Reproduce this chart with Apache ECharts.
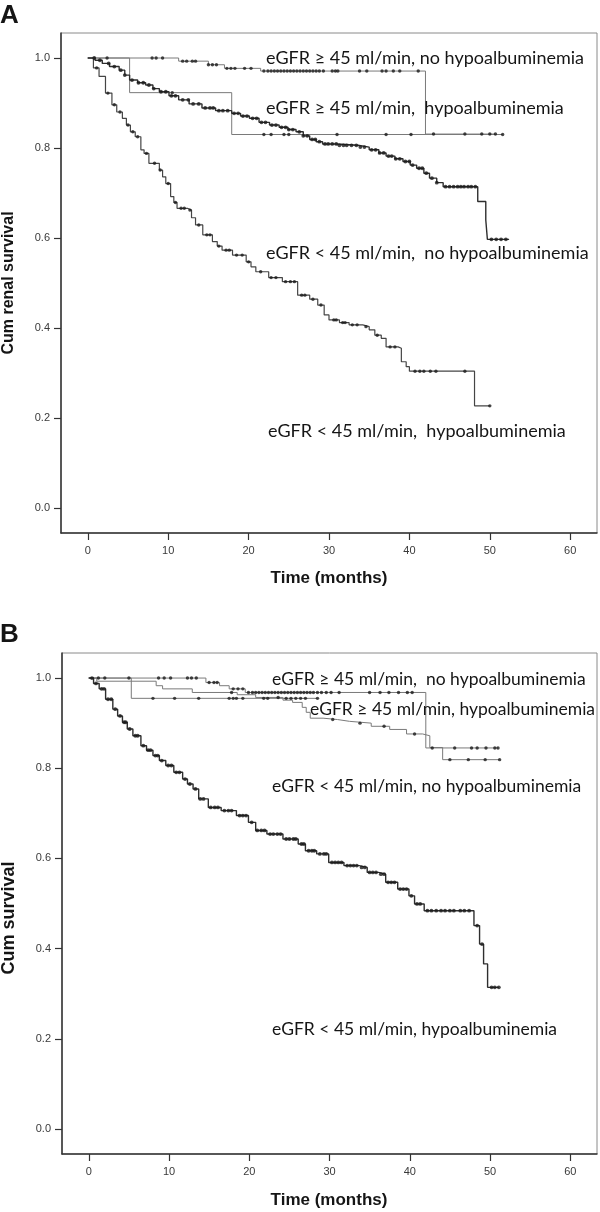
<!DOCTYPE html>
<html><head><meta charset="utf-8">
<script src="https://cdn.jsdelivr.net/npm/echarts@6/dist/echarts.min.js"></script>
<style>html,body{margin:0;padding:0;background:#fff}#c{width:600px;height:1212px}</style>
</head><body><div id="c"></div>
<script>
// ---------- tick labels ----------
const xTicks = [0, 10, 20, 30, 40, 50, 60];
const yTicks = [0, 0.2, 0.4, 0.6, 0.8, 1.0];

// ---------- Panel A: Kaplan–Meier steps [time, cum renal survival] ----------
const a1Steps = [[0,1.0],[11.3,0.993],[15,0.985],[17,0.977],[21.5,0.971],[42,0.831],[50.7,0.831]];
const a1Censor = [2.4,8.0,8.5,9.3,11.8,12.3,13.0,13.4,15.0,15.5,16.0,17.3,17.8,18.3,19.5,20.3,21.9,22.4,22.8,23.2,23.6,24.0,24.4,24.8,25.2,25.6,26.0,26.4,26.8,27.2,27.6,28.0,28.4,28.8,29.3,30.4,30.8,31.1,33.8,34.7,36.6,37.1,38.0,38.8,41.1,43.0,46.9,49.0,50.0,50.7];
const a2Steps = [[0,1.0],[5.2,0.923],[17.9,0.83],[51.6,0.83]];
const a2Censor = [10.5,21.9,22.8,24.4,25.0,31.0,37.1,40.2,51.6];
const a3Steps = [[0,1.0],[0.9,0.995],[1.8,0.988],[2.7,0.981],[3.9,0.973],[4.6,0.962],[5.2,0.951],[6.2,0.945],[7.2,0.940],[8.1,0.932],[8.9,0.925],[10.1,0.916],[11.3,0.907],[12.6,0.898],[14.2,0.889],[15.9,0.883],[17.9,0.877],[19.0,0.871],[20.1,0.866],[21.3,0.857],[22.6,0.851],[23.8,0.846],[24.9,0.841],[25.9,0.836],[26.8,0.827],[27.6,0.819],[28.4,0.814],[29.2,0.809],[31.0,0.806],[33.6,0.802],[35.0,0.796],[36.2,0.789],[37.1,0.782],[38.2,0.776],[39.2,0.770],[40.1,0.762],[40.9,0.755],[41.8,0.744],[42.5,0.733],[43.4,0.723],[44.2,0.714],[48.5,0.681],[49.5,0.640],[49.7,0.597],[52.4,0.597]];
const a3Censor = [0.8,1.5,2.6,3.3,4.1,4.6,5.5,6.3,6.9,7.6,8.2,9.1,9.7,10.4,10.9,11.8,12.5,13.1,13.8,14.6,15.2,15.6,16.3,16.8,17.4,18.2,18.7,19.3,19.8,20.5,21.0,21.6,22.1,22.9,23.4,24.1,24.6,25.0,25.5,26.3,26.8,27.3,27.9,28.3,28.8,29.5,29.9,30.4,30.9,31.3,31.8,32.2,32.8,33.4,33.9,34.4,35.3,35.8,36.3,36.8,37.4,37.8,38.3,38.8,39.5,40.0,40.4,41.2,41.6,42.1,42.8,43.4,44.5,45.0,45.5,46.0,46.4,46.8,47.3,47.7,48.2,50.2,50.8,51.4,52.0];
const a4Steps = [[0,1.0],[0.7,0.978],[1.4,0.959],[2.2,0.922],[3.0,0.896],[3.6,0.880],[4.3,0.866],[4.8,0.851],[5.3,0.836],[5.9,0.825],[6.6,0.796],[7.0,0.788],[7.6,0.766],[8.9,0.751],[9.3,0.736],[9.7,0.721],[10.3,0.692],[10.7,0.679],[11.1,0.666],[12.4,0.662],[12.9,0.645],[13.4,0.629],[14.3,0.607],[15.5,0.592],[16.1,0.582],[16.7,0.573],[18.0,0.562],[19.7,0.547],[20.3,0.536],[20.9,0.525],[22.5,0.512],[24.2,0.503],[26.1,0.473],[27.6,0.464],[28.6,0.451],[29.4,0.429],[30.0,0.418],[31.3,0.412],[32.5,0.407],[34.2,0.403],[35.0,0.396],[35.7,0.384],[36.5,0.377],[37.1,0.358],[38.6,0.355],[39.0,0.325],[39.6,0.314],[40.0,0.304],[48.1,0.227],[50.0,0.227]];
const a4Censor = [1.1,2.5,3.3,4.0,5.0,5.6,6.2,7.3,8.3,9.0,10.0,10.9,11.6,12.0,12.7,13.8,14.8,15.2,16.3,17.2,17.6,18.5,19.2,20.0,21.5,22.8,23.4,24.6,25.2,25.7,26.6,27.0,28.0,29.0,30.6,30.9,31.7,32.0,32.9,33.5,34.6,36.0,37.6,38.2,40.7,41.3,41.8,42.6,43.3,46.9,50.0];

// ---------- Panel B: Kaplan–Meier steps [time, cum survival] ----------
const b1Steps = [[0,1.0],[14.6,0.99],[16.3,0.983],[17.5,0.976],[19.5,0.968],[42,0.845],[51,0.845]];
const b1Censor = [2.0,5.0,8.7,9.4,10.2,12.3,12.8,13.4,15.0,15.6,16.0,18.0,18.6,19.2,19.9,20.4,20.8,21.2,21.6,22.0,22.4,22.8,23.2,23.6,24.0,24.4,24.8,25.2,25.6,26.0,26.4,26.8,27.2,27.6,28.0,28.5,29.0,29.6,30.2,31.2,35.0,36.3,37.4,38.6,39.7,40.3,42.8,45.6,47.7,48.4,49.5,50.6,51.0];
const b2Steps = [[0,1.0],[5.3,0.955],[28.5,0.955]];
const b2Censor = [1.2,8.0,10.7,13.7,17.5,18.0,18.4,19.2,21.8,22.3,24.6,25.2,25.8,26.4,27.0,28.5];
const b3Steps = [[0,1.0],[1.0,0.993],[8.4,0.983],[9.2,0.976],[12.9,0.968],[18.5,0.963],[20.8,0.957],[24.2,0.951],[25.4,0.946],[26.6,0.935],[27.1,0.924],[27.6,0.911],[29.2,0.908],[31.0,0.904],[32.5,0.900],[35.2,0.893],[37.5,0.886],[39.6,0.876],[41.6,0.872],[42.5,0.846],[44.1,0.819],[51.2,0.819]];
const b3Censor = [17.8,23.6,30.4,33.8,36.8,40.6,45.0,47.3,49.4,51.2];
const b4Steps = [[0,1.0],[0.6,0.988],[1.3,0.976],[2.1,0.953],[3.0,0.931],[3.6,0.916],[4.2,0.902],[4.8,0.887],[5.5,0.872],[6.5,0.85],[7.2,0.84],[8.0,0.828],[8.8,0.817],[9.6,0.806],[10.6,0.791],[11.7,0.776],[12.3,0.765],[13.0,0.754],[13.7,0.732],[14.9,0.713],[16.5,0.706],[18.4,0.695],[19.9,0.68],[20.8,0.662],[22.2,0.654],[24.2,0.643],[26.1,0.632],[27.0,0.617],[28.4,0.61],[29.9,0.591],[31.8,0.584],[33.7,0.58],[34.7,0.569],[36.1,0.565],[37.0,0.547],[38.5,0.532],[39.9,0.517],[40.6,0.499],[41.8,0.484],[48.0,0.451],[48.7,0.41],[49.2,0.366],[49.7,0.314],[51.1,0.314]];
const b4Censor = [0.4,0.9,1.6,1.9,2.4,2.8,3.3,3.9,4.4,4.6,5.1,5.8,6.1,6.8,7.4,7.7,8.3,8.6,9.1,9.9,10.3,10.9,11.3,12.0,12.6,13.3,13.9,14.3,15.2,15.7,16.1,16.9,17.4,17.8,18.8,19.2,19.6,20.3,21.0,21.5,21.9,22.6,23.0,23.5,23.9,24.6,25.0,25.5,25.8,26.5,26.8,27.4,27.8,28.1,28.8,29.3,29.6,30.3,30.7,31.1,31.5,32.2,32.6,33.0,33.4,34.0,34.4,35.0,35.4,35.8,36.4,36.8,37.3,37.7,38.1,38.8,39.2,39.6,40.2,40.9,41.3,42.2,42.7,43.3,43.9,44.4,45.0,45.5,46.3,46.8,47.4,48.4,49.0,50.2,50.6,51.1];

// ---------- curve labels ----------
const labelsA = ['eGFR \u2265 45 ml/min, no hypoalbuminemia','eGFR \u2265 45 ml/min,  hypoalbuminemia','eGFR < 45 ml/min,  no hypoalbuminemia','eGFR < 45 ml/min,  hypoalbuminemia'];
const labelsB = ['eGFR \u2265 45 ml/min,  no hypoalbuminemia','eGFR \u2265 45 ml/min, hypoalbuminemia','eGFR < 45 ml/min, no hypoalbuminemia','eGFR < 45 ml/min, hypoalbuminemia'];

// ---------- build ----------
function survAt(steps, t){ let s = steps[0][1]; for (const p of steps){ if (p[0] <= t) s = p[1]; else break; } return s; }
const THIN = {color:'#7a7a7a', width:1}, DARK = {color:'#2e2e2e', width:1.4}, MID = {color:'#454545', width:1.2};
function curve(steps, g, ls){ return {type:'line', step:'end', data:steps, xAxisIndex:g, yAxisIndex:g, symbol:'none', lineStyle:ls, silent:true, z:2}; }
function marks(steps, times, g, size){ return {type:'scatter', data:times.map(t=>[t, survAt(steps,t)]), xAxisIndex:g, yAxisIndex:g, symbol:'circle', symbolSize:size, itemStyle:{color:'#1a1a1a'}, silent:true, z:3}; }

const axisFont = {fontFamily:'Liberation Sans', fontSize:11, color:'#3a3a3a'};
function xAx(g){ return {type:'value', gridIndex:g, min:-10/3, max:190/3,
  axisLine:{show:true,onZero:false,lineStyle:{color:'#333',width:1.5}},
  axisTick:{show:true,inside:false,length:7,customValues:xTicks,lineStyle:{color:'#333',width:1.2}},
  axisLabel:Object.assign({margin:12,customValues:xTicks,formatter:v=>String(Math.round(v))},axisFont),
  splitLine:{show:false}}; }
function yAx(g){ return {type:'value', gridIndex:g, min:-1/18, max:1+1/18,
  axisLine:{show:true,onZero:false,lineStyle:{color:'#333',width:1.5}},
  axisTick:{show:true,inside:false,length:7,customValues:yTicks,lineStyle:{color:'#333',width:1.2}},
  axisLabel:Object.assign({margin:11,customValues:yTicks,formatter:v=>v.toFixed(1)},axisFont),
  splitLine:{show:false}}; }

function txt(text, x, y, font, extra){ return {type:'text', x:x, y:y, silent:true, z:10,
  style:Object.assign({text:text, font:font, fill:'#151515', align:'left', verticalAlign:'middle'}, extra||{})}; }
const LFA = '18px Lato', LFB = '17.5px Lato';
const TF = 'bold 17px "Liberation Sans"';
const graphics = [
  txt('A', 0, 16, 'bold 26px "Liberation Sans"'),
  txt('B', 0, 635, 'bold 26px "Liberation Sans"'),
  txt(labelsA[0], 266, 58, LFA), txt(labelsA[1], 266, 108, LFA), txt(labelsA[2], 266, 253, LFA), txt(labelsA[3], 268, 431, LFA),
  txt(labelsB[0], 272, 679, LFB), txt(labelsB[1], 310, 709, LFB), txt(labelsB[2], 272, 786, LFB), txt(labelsB[3], 272, 1029, LFB),
  txt('Time (months)', 329, 578, TF, {align:'center'}),
  txt('Time (months)', 329, 1200, TF, {align:'center'}),
  Object.assign(txt('Cum renal survival', 9, 283, 'bold 16px "Liberation Sans"', {align:'center'}), {rotation:Math.PI/2}),
  Object.assign(txt('Cum survival', 9, 918, 'bold 18px "Liberation Sans"', {align:'center'}), {rotation:Math.PI/2})
];

const chart = echarts.init(document.getElementById('c'), null, {renderer:'canvas'});
chart.setOption({
  animation:false, backgroundColor:'#fff',
  grid:[{left:61, top:33, width:536, height:500, show:true, borderColor:'#8a8a8a', borderWidth:1},
        {left:62, top:653, width:535, height:501, show:true, borderColor:'#8a8a8a', borderWidth:1}],
  xAxis:[xAx(0), xAx(1)], yAxis:[yAx(0), yAx(1)],
  series:[
    curve(a1Steps,0,THIN), curve(a2Steps,0,THIN), curve(a3Steps,0,DARK), curve(a4Steps,0,MID),
    marks(a1Steps,a1Censor,0,3.4), marks(a2Steps,a2Censor,0,3.4), marks(a3Steps,a3Censor,0,3.8), marks(a4Steps,a4Censor,0,3.4),
    curve(b1Steps,1,THIN), curve(b2Steps,1,THIN), curve(b3Steps,1,THIN), curve(b4Steps,1,DARK),
    marks(b1Steps,b1Censor,1,3.4), marks(b2Steps,b2Censor,1,3.4), marks(b3Steps,b3Censor,1,3.4), marks(b4Steps,b4Censor,1,3.8)
  ],
  graphic:graphics
});
</script></body></html>
